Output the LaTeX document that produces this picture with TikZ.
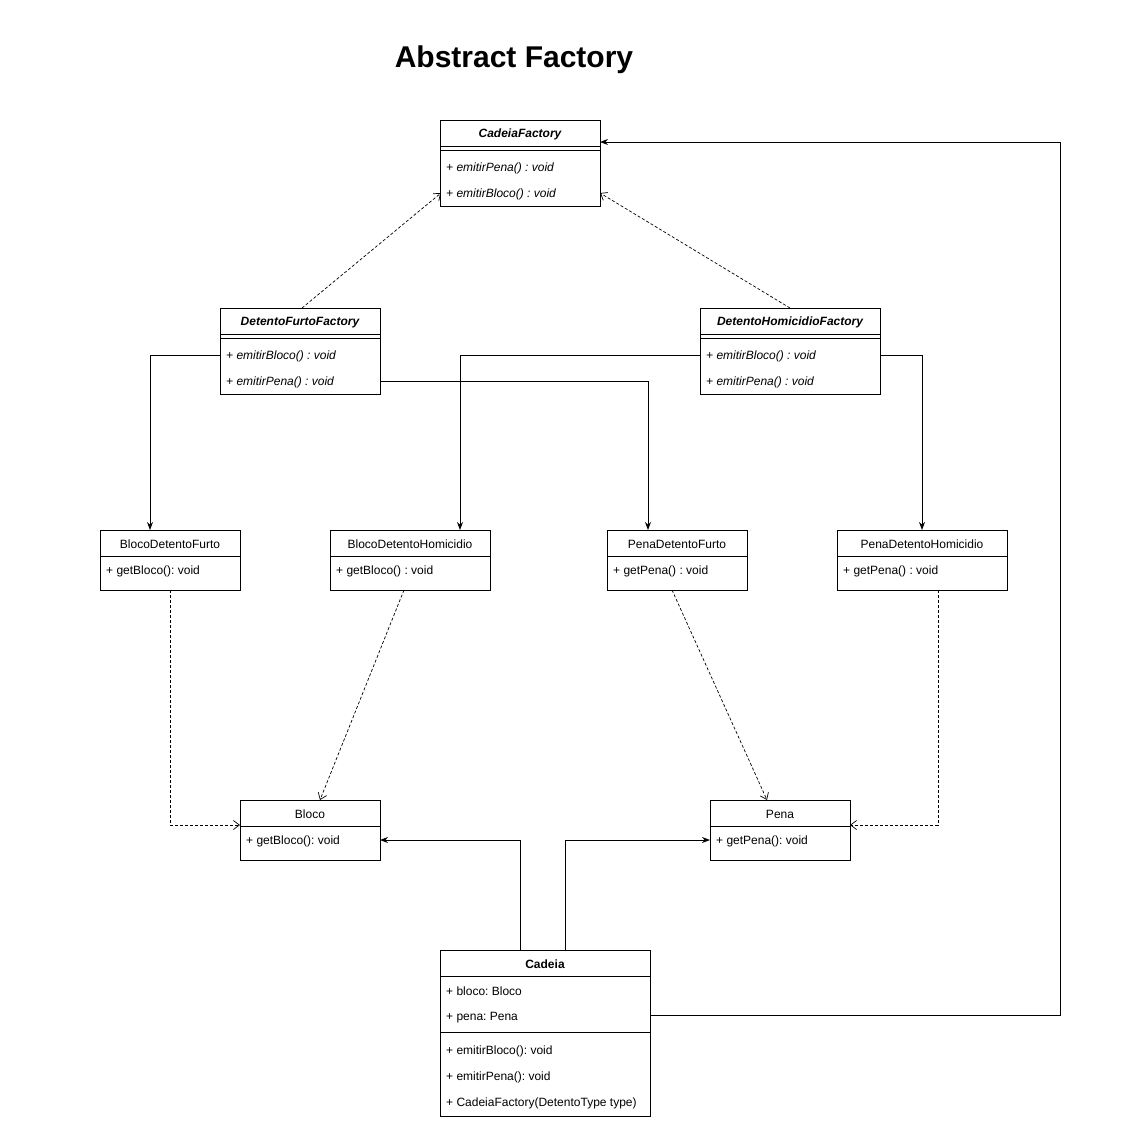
\documentclass[tikz,border=0pt]{standalone}
\usepackage{fontspec}
\setmainfont{Liberation Sans}
\usetikzlibrary{arrows.meta,calc}
\frenchspacing
\begin{document}
\begin{tikzpicture}[x=1pt,y=-1pt,
  box/.style={draw, line width=0.9pt, anchor=north west, inner sep=0pt, outer sep=0pt},
  sep/.style={line width=0.9pt},
  ttl/.style={font=\fontsize{12}{14}\selectfont, inner sep=0pt, yshift=-1.5pt},
  ttlI/.style={font=\fontsize{12}{14}\selectfont\bfseries\itshape, inner sep=0pt, yshift=-1.5pt},
  ttlB/.style={font=\fontsize{12}{14}\selectfont\bfseries, inner sep=0pt, yshift=-1.5pt},
  mem/.style={font=\fontsize{12}{14}\selectfont, anchor=west, inner sep=0pt, yshift=-1.5pt},
  memI/.style={font=\fontsize{12}{14}\selectfont\itshape, anchor=west, inner sep=0pt, yshift=-1.5pt},
  assoc/.style={line width=0.9pt, -{Stealth[length=8pt,width=6pt]}},
  dep/.style={line width=0.7pt, dash pattern=on 3pt off 2pt, -{Straight Barb[length=6pt,width=9pt]}}
]
\useasboundingbox[fill=white] (0,0) rectangle (1140,1140);

% title
\node[font=\fontsize{30}{35}\selectfont\bfseries] (title) at (514,60) {Abstract Factory};

% ---- CadeiaFactory (abstract) ----
\node[box, minimum width=160pt, minimum height=86pt] (cf) at (440,120) {};
\node[ttlI] (cft) at (520,133) {CadeiaFactory};
\draw[sep] (440,146) -- (600,146);
\draw[sep] (440,150) -- (600,150);
\node[memI] (cf1) at (446,167) {+ emitirPena() : void};
\node[memI] (cf2) at (446,193) {+ emitirBloco() : void};

% ---- DetentoFurtoFactory ----
\node[box, minimum width=160pt, minimum height=86pt] (dff) at (220,308) {};
\node[ttlI] (dfft) at (300,321) {DetentoFurtoFactory};
\draw[sep] (220,334) -- (380,334);
\draw[sep] (220,338) -- (380,338);
\node[memI] (dff1) at (226,355) {+ emitirBloco() : void};
\node[memI] (dff2) at (226,381) {+ emitirPena() : void};

% ---- DetentoHomicidioFactory ----
\node[box, minimum width=180pt, minimum height=86pt] (dhf) at (700,308) {};
\node[ttlI] (dhft) at (790,321) {DetentoHomicidioFactory};
\draw[sep] (700,334) -- (880,334);
\draw[sep] (700,338) -- (880,338);
\node[memI] (dhf1) at (706,355) {+ emitirBloco() : void};
\node[memI] (dhf2) at (706,381) {+ emitirPena() : void};

% ---- concrete products ----
\node[box, minimum width=140pt, minimum height=60pt] (bdf) at (100,530) {};
\node[ttl] (bdft) at (170,543) {BlocoDetentoFurto};
\draw[sep] (100,556) -- (240,556);
\node[mem] (bdf1) at (106,570) {+ getBloco(): void};

\node[box, minimum width=160pt, minimum height=60pt] (bdh) at (330,530) {};
\node[ttl] (bdht) at (410,543) {BlocoDetentoHomicidio};
\draw[sep] (330,556) -- (490,556);
\node[mem] (bdh1) at (336,570) {+ getBloco() : void};

\node[box, minimum width=140pt, minimum height=60pt] (pdf) at (607,530) {};
\node[ttl] (pdft) at (677,543) {PenaDetentoFurto};
\draw[sep] (607,556) -- (747,556);
\node[mem] (pdf1) at (613,570) {+ getPena() : void};

\node[box, minimum width=170pt, minimum height=60pt] (pdh) at (837,530) {};
\node[ttl] (pdht) at (922,543) {PenaDetentoHomicidio};
\draw[sep] (837,556) -- (1007,556);
\node[mem] (pdh1) at (843,570) {+ getPena() : void};

% ---- product interfaces ----
\node[box, minimum width=140pt, minimum height=60pt] (bl) at (240,800) {};
\node[ttl] (blt) at (310,813) {Bloco};
\draw[sep] (240,826) -- (380,826);
\node[mem] (bl1) at (246,840) {+ getBloco(): void};

\node[box, minimum width=140pt, minimum height=60pt] (pe) at (710,800) {};
\node[ttl] (pet) at (780,813) {Pena};
\draw[sep] (710,826) -- (850,826);
\node[mem] (pe1) at (716,840) {+ getPena(): void};

% ---- Cadeia (client) ----
\node[box, minimum width=210pt, minimum height=166pt] (cad) at (440,950) {};
\node[ttlB] (cadt) at (545,963) {Cadeia};
\draw[sep] (440,976) -- (650,976);
\node[mem] (cad1) at (446,990) {+ bloco: Bloco};
\node[mem] (cad2) at (446,1016) {+ pena: Pena};
\draw[sep] (440,1032) -- (650,1032);
\node[mem] (cad3) at (446,1050) {+ emitirBloco(): void};
\node[mem] (cad4) at (446,1076) {+ emitirPena(): void};
\node[mem] (cad5) at (446,1102) {+ CadeiaFactory(DetentoType type)};

% ---- connector waypoints ----
\coordinate (rt) at (1060,142);
\coordinate (bdfIn) at (150,530);
\coordinate (pdfIn) at (648,530);
\coordinate (bdhIn) at (460,530);
\coordinate (dffTop) at (302,308);
\coordinate (dhfTop) at (790,308);
\coordinate (cfL) at (441,193);
\coordinate (cfR) at (600,193);
\coordinate (bdfOut) at (170,590);
\coordinate (bdhOut) at (404,590);
\coordinate (pdfOut) at (672,590);
\coordinate (pdhOut) at (938,590);
\coordinate (blTop) at (320,800);
\coordinate (peTop) at (767,800);
\coordinate (blL) at (240,825);
\coordinate (peR) at (850,825);
\coordinate (cadA) at (520,950);
\coordinate (cadB) at (565,950);

% realization of the abstract factory
\draw[dep] (dffTop) -- (cfL);
\draw[dep] (dhfTop) -- (cfR);

% factories create products
\draw[assoc] (dff.west |- 0,355) -| (bdfIn);
\draw[assoc] (dff.east |- 0,381) -| (pdfIn);
\draw[assoc] (dhf.west |- 0,355) -| (bdhIn);
\draw[assoc] (dhf.east |- 0,355) -| (pdh.north);

% products realize interfaces
\draw[dep] (bdfOut) |- (blL);
\draw[dep] (bdhOut) -- (blTop);
\draw[dep] (pdfOut) -- (peTop);
\draw[dep] (pdhOut) |- (peR);

% client associations
\draw[assoc] (cadA) |- (bl.east |- 0,840);
\draw[assoc] (cadB) |- (pe.west |- 0,840);
\draw[assoc] (cad.east |- 0,1015) -| (rt) -- (cf.east |- rt);
\end{tikzpicture}
\end{document}
